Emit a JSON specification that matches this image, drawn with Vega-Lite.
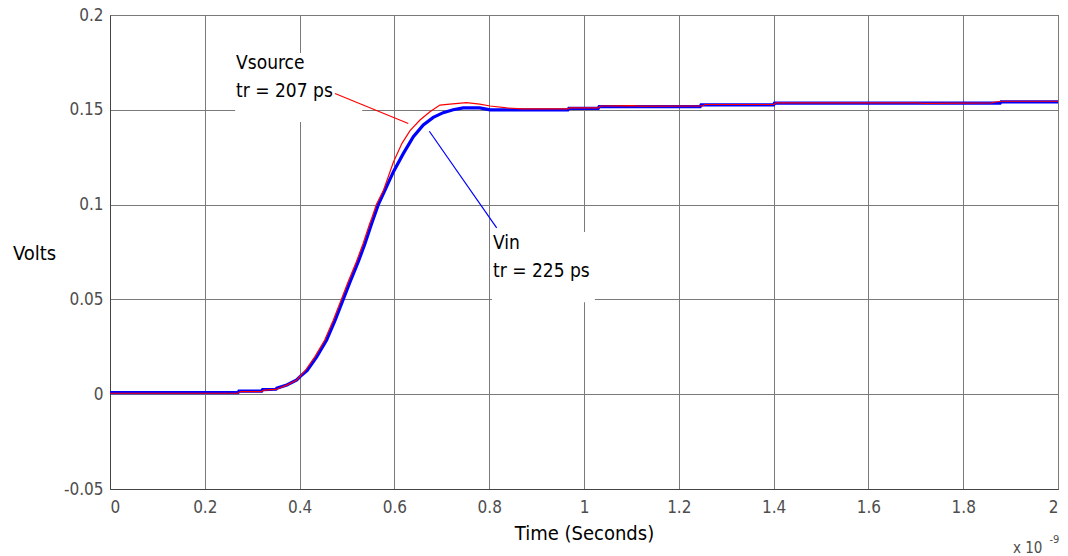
{
  "$schema": "https://vega.github.io/schema/vega-lite/v6.json",
  "width": 948,
  "height": 474,
  "autosize": {"type": "none"},
  "padding": {"left": 110, "top": 15, "right": 10, "bottom": 67},
  "background": "white",
  "config": {
    "font": "DejaVu Sans Condensed, Liberation Sans Narrow, sans-serif",
    "view": {"stroke": "#444444", "strokeWidth": 1},
    "axis": {
      "grid": true,
      "gridColor": "#7a7a7a",
      "gridWidth": 1,
      "gridOpacity": 1,
      "domainColor": "#444444",
      "ticks": false,
      "labelColor": "#4d4d4d",
      "labelFont": "DejaVu Sans Condensed, Liberation Sans Narrow, sans-serif",
      "labelFontSize": 17,
      "titleFont": "DejaVu Sans Condensed, Liberation Sans Narrow, sans-serif",
      "titleFontSize": 20,
      "titleFontWeight": "normal",
      "titleColor": "#000000"
    }
  },
  "datasets": {
    "curves": [
      {"t": 0, "v": 0.0008, "s": "Vin"},
      {"t": 0.27, "v": 0.0008, "s": "Vin"},
      {"t": 0.272, "v": 0.0016, "s": "Vin"},
      {"t": 0.32, "v": 0.0016, "s": "Vin"},
      {"t": 0.322, "v": 0.0024, "s": "Vin"},
      {"t": 0.35, "v": 0.0026, "s": "Vin"},
      {"t": 0.352, "v": 0.0032, "s": "Vin"},
      {"t": 0.373, "v": 0.0049, "s": "Vin"},
      {"t": 0.394, "v": 0.0075, "s": "Vin"},
      {"t": 0.401, "v": 0.0093, "s": "Vin"},
      {"t": 0.416, "v": 0.0125, "s": "Vin"},
      {"t": 0.436, "v": 0.0197, "s": "Vin"},
      {"t": 0.457, "v": 0.0286, "s": "Vin"},
      {"t": 0.475, "v": 0.039, "s": "Vin"},
      {"t": 0.492, "v": 0.05, "s": "Vin"},
      {"t": 0.506, "v": 0.059, "s": "Vin"},
      {"t": 0.524, "v": 0.07, "s": "Vin"},
      {"t": 0.538, "v": 0.0795, "s": "Vin"},
      {"t": 0.552, "v": 0.09, "s": "Vin"},
      {"t": 0.566, "v": 0.1, "s": "Vin"},
      {"t": 0.577, "v": 0.106, "s": "Vin"},
      {"t": 0.598, "v": 0.1174, "s": "Vin"},
      {"t": 0.619, "v": 0.127, "s": "Vin"},
      {"t": 0.64, "v": 0.1358, "s": "Vin"},
      {"t": 0.661, "v": 0.142, "s": "Vin"},
      {"t": 0.682, "v": 0.146, "s": "Vin"},
      {"t": 0.703, "v": 0.1485, "s": "Vin"},
      {"t": 0.724, "v": 0.15, "s": "Vin"},
      {"t": 0.745, "v": 0.151, "s": "Vin"},
      {"t": 0.78, "v": 0.151, "s": "Vin"},
      {"t": 0.802, "v": 0.15, "s": "Vin"},
      {"t": 0.966, "v": 0.15, "s": "Vin"},
      {"t": 0.968, "v": 0.1508, "s": "Vin"},
      {"t": 1.03, "v": 0.1508, "s": "Vin"},
      {"t": 1.032, "v": 0.1517, "s": "Vin"},
      {"t": 1.245, "v": 0.1517, "s": "Vin"},
      {"t": 1.247, "v": 0.1526, "s": "Vin"},
      {"t": 1.4, "v": 0.1526, "s": "Vin"},
      {"t": 1.402, "v": 0.1535, "s": "Vin"},
      {"t": 1.878, "v": 0.1535, "s": "Vin"},
      {"t": 1.88, "v": 0.1542, "s": "Vin"},
      {"t": 2.0, "v": 0.1542, "s": "Vin"},
      {"t": 0, "v": 0.0005, "s": "Vsource"},
      {"t": 0.27, "v": 0.0005, "s": "Vsource"},
      {"t": 0.275, "v": 0.0014, "s": "Vsource"},
      {"t": 0.32, "v": 0.0014, "s": "Vsource"},
      {"t": 0.325, "v": 0.0022, "s": "Vsource"},
      {"t": 0.35, "v": 0.0025, "s": "Vsource"},
      {"t": 0.355, "v": 0.003, "s": "Vsource"},
      {"t": 0.373, "v": 0.0048, "s": "Vsource"},
      {"t": 0.394, "v": 0.0075, "s": "Vsource"},
      {"t": 0.412, "v": 0.0125, "s": "Vsource"},
      {"t": 0.432, "v": 0.0197, "s": "Vsource"},
      {"t": 0.453, "v": 0.0286, "s": "Vsource"},
      {"t": 0.471, "v": 0.039, "s": "Vsource"},
      {"t": 0.488, "v": 0.05, "s": "Vsource"},
      {"t": 0.502, "v": 0.059, "s": "Vsource"},
      {"t": 0.52, "v": 0.07, "s": "Vsource"},
      {"t": 0.534, "v": 0.0795, "s": "Vsource"},
      {"t": 0.548, "v": 0.09, "s": "Vsource"},
      {"t": 0.552, "v": 0.0927, "s": "Vsource"},
      {"t": 0.562, "v": 0.1, "s": "Vsource"},
      {"t": 0.577, "v": 0.1076, "s": "Vsource"},
      {"t": 0.598, "v": 0.1225, "s": "Vsource"},
      {"t": 0.616, "v": 0.1323, "s": "Vsource"},
      {"t": 0.633, "v": 0.139, "s": "Vsource"},
      {"t": 0.654, "v": 0.1446, "s": "Vsource"},
      {"t": 0.675, "v": 0.149, "s": "Vsource"},
      {"t": 0.696, "v": 0.1525, "s": "Vsource"},
      {"t": 0.717, "v": 0.153, "s": "Vsource"},
      {"t": 0.752, "v": 0.1538, "s": "Vsource"},
      {"t": 0.78, "v": 0.153, "s": "Vsource"},
      {"t": 0.802, "v": 0.152, "s": "Vsource"},
      {"t": 0.837, "v": 0.151, "s": "Vsource"},
      {"t": 0.87, "v": 0.1505, "s": "Vsource"},
      {"t": 0.966, "v": 0.1505, "s": "Vsource"},
      {"t": 0.97, "v": 0.151, "s": "Vsource"},
      {"t": 1.03, "v": 0.151, "s": "Vsource"},
      {"t": 1.035, "v": 0.152, "s": "Vsource"},
      {"t": 1.1, "v": 0.1522, "s": "Vsource"},
      {"t": 1.12, "v": 0.1519, "s": "Vsource"},
      {"t": 1.25, "v": 0.152, "s": "Vsource"},
      {"t": 1.255, "v": 0.1528, "s": "Vsource"},
      {"t": 1.4, "v": 0.1528, "s": "Vsource"},
      {"t": 1.405, "v": 0.1537, "s": "Vsource"},
      {"t": 1.7, "v": 0.1537, "s": "Vsource"},
      {"t": 1.72, "v": 0.1534, "s": "Vsource"},
      {"t": 1.86, "v": 0.1537, "s": "Vsource"},
      {"t": 1.865, "v": 0.154, "s": "Vsource"},
      {"t": 1.88, "v": 0.1545, "s": "Vsource"},
      {"t": 2.0, "v": 0.1545, "s": "Vsource"}
    ],
    "boxes": [
      {"x": 0.264, "x2": 0.532, "y": 0.1435, "y2": 0.1799},
      {"x": 0.806, "x2": 1.023, "y": 0.0485, "y2": 0.0856}
    ],
    "leaders": [
      {"x": 0.4747, "y": 0.1586, "x2": 0.6293, "y2": 0.1428, "c": "Vsource"},
      {"x": 0.6737, "y": 0.1387, "x2": 0.8158, "y2": 0.0877, "c": "Vin"}
    ],
    "labels": [
      {"x": 0.266, "y": 0.1715, "txt": "Vsource"},
      {"x": 0.266, "y": 0.157, "txt": "tr = 207 ps"},
      {"x": 0.808, "y": 0.0765, "txt": "Vin"},
      {"x": 0.808, "y": 0.062, "txt": "tr = 225 ps"}
    ],
    "exp": [
      {"x": 1.905, "y": -0.0839, "txt": "x 10", "sz": 15},
      {"x": 1.982, "y": -0.0785, "txt": "-9", "sz": 11}
    ]
  },
  "layer": [
    {
      "data": {"name": "boxes"},
      "mark": {"type": "rect", "fill": "white", "stroke": null},
      "encoding": {
        "x": {
          "field": "x", "type": "quantitative",
          "scale": {"domain": [0, 2], "nice": false, "zero": false},
          "axis": {
            "values": [0, 0.2, 0.4, 0.6, 0.8, 1, 1.2, 1.4, 1.6, 1.8, 2],
            "labelExpr": "format(datum.value, '.1~f')",
            "labelPadding": 10,
            "title": "Time (Seconds)",
            "titlePadding": 8
          }
        },
        "x2": {"field": "x2"},
        "y": {
          "field": "y", "type": "quantitative",
          "scale": {"domain": [-0.05, 0.2], "nice": false, "zero": false},
          "axis": {
            "values": [-0.05, 0, 0.05, 0.1, 0.15, 0.2],
            "labelExpr": "replace(format(datum.value, '.2~f'), '\u2212', '-')",
            "labelPadding": 7,
            "title": "Volts",
            "titleAngle": 0,
            "titleAlign": "center",
            "titleBaseline": "middle",
            "titleX": -76,
            "titleY": 238
          }
        },
        "y2": {"field": "y2"}
      }
    },
    {
      "data": {"name": "leaders"},
      "mark": {"type": "rule", "strokeWidth": 1.2},
      "encoding": {
        "x": {"field": "x", "type": "quantitative"},
        "y": {"field": "y", "type": "quantitative"},
        "x2": {"field": "x2"},
        "y2": {"field": "y2"},
        "color": {"field": "c", "type": "nominal", "scale": {"domain": ["Vin", "Vsource"], "range": ["#0000ff", "#ff0000"]}, "legend": null}
      }
    },
    {
      "data": {"name": "curves"},
      "transform": [{"filter": "datum.s === 'Vin'"}],
      "mark": {"type": "line", "strokeWidth": 3.2, "color": "#0000ff", "interpolate": "linear"},
      "encoding": {
        "x": {"field": "t", "type": "quantitative"},
        "y": {"field": "v", "type": "quantitative"}
      }
    },
    {
      "data": {"name": "curves"},
      "transform": [{"filter": "datum.s === 'Vsource'"}],
      "mark": {"type": "line", "strokeWidth": 1.2, "color": "#ff0000", "interpolate": "linear"},
      "encoding": {
        "x": {"field": "t", "type": "quantitative"},
        "y": {"field": "v", "type": "quantitative"}
      }
    },
    {
      "data": {"name": "labels"},
      "mark": {"type": "text", "align": "left", "baseline": "alphabetic", "fontSize": 19, "color": "#000000"},
      "encoding": {
        "x": {"field": "x", "type": "quantitative"},
        "y": {"field": "y", "type": "quantitative"},
        "text": {"field": "txt"}
      }
    },
    {
      "data": {"name": "exp"},
      "mark": {"type": "text", "align": "left", "baseline": "alphabetic", "color": "#4d4d4d"},
      "encoding": {
        "x": {"field": "x", "type": "quantitative"},
        "y": {"field": "y", "type": "quantitative"},
        "text": {"field": "txt"},
        "size": {"field": "sz", "type": "quantitative", "scale": null}
      }
    }
  ]
}
